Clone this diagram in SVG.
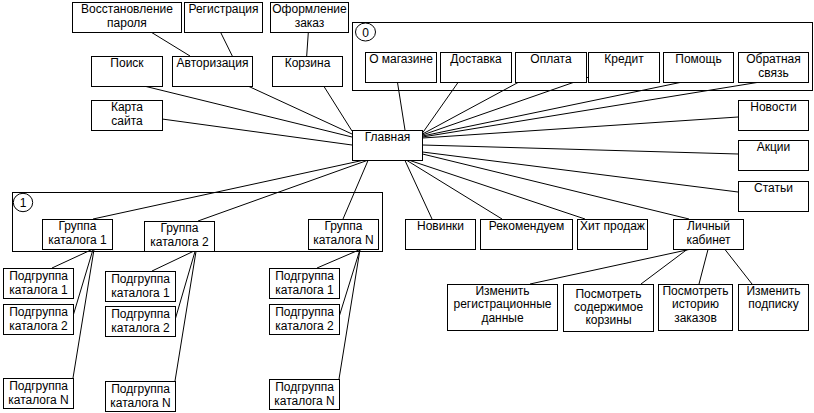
<svg xmlns="http://www.w3.org/2000/svg" width="814" height="413" viewBox="0 0 814 413">
<style>
.b{fill:#fff;stroke:#000;stroke-width:1}
.c{fill:none;stroke:#000;stroke-width:1}
.l{stroke:#000;stroke-width:1;fill:none}
text{font-family:"Liberation Sans",Arial,sans-serif;font-size:12px;text-anchor:middle;fill:#000}
</style>
<rect width="814" height="413" fill="#fff"/>
<g id="container0">
<rect class="c" x="352.5" y="22.5" width="460" height="68"/>
<ellipse class="c" cx="365.5" cy="32" rx="10" ry="9"/>
<text x="365.5" y="36.5">0</text>
</g>
<g id="container1">
<rect class="c" x="12.5" y="192.5" width="370" height="59"/>
<ellipse class="c" cx="23" cy="202.5" rx="9.7" ry="9.2"/>
<text x="23" y="207">1</text>
</g>
<g id="connectors" class="l">
<line x1="151.7" y1="32.5" x2="190" y2="56"/>
<line x1="220.7" y1="32.5" x2="232.3" y2="56"/>
<line x1="308.3" y1="32.5" x2="306.7" y2="56"/>
<line x1="146" y1="86.5" x2="352" y2="137"/>
<line x1="249" y1="86.5" x2="352" y2="134"/>
<line x1="324" y1="86.5" x2="352" y2="131"/>
<line x1="162" y1="119" x2="352" y2="145"/>
<line x1="397.5" y1="82.5" x2="405" y2="130"/>
<line x1="458" y1="82.5" x2="422.5" y2="133"/>
<line x1="518" y1="82.5" x2="422.5" y2="134"/>
<line x1="589" y1="77" x2="422.5" y2="135"/>
<line x1="680" y1="82.5" x2="422.5" y2="136"/>
<line x1="757" y1="82.5" x2="422.5" y2="137"/>
<line x1="738" y1="117" x2="422.5" y2="138"/>
<line x1="738" y1="154" x2="422.5" y2="145"/>
<line x1="738" y1="192" x2="422.5" y2="152"/>
<line x1="689" y1="219" x2="422.5" y2="154"/>
<line x1="585" y1="219" x2="410" y2="160.5"/>
<line x1="502" y1="219" x2="407" y2="160.5"/>
<line x1="432" y1="219" x2="405" y2="160.5"/>
<line x1="362" y1="160.5" x2="93" y2="219"/>
<line x1="367" y1="160.5" x2="198" y2="221"/>
<line x1="368" y1="160.5" x2="343" y2="219"/>
<line x1="92" y1="249.5" x2="52" y2="268"/>
<line x1="93" y1="249.5" x2="73" y2="316"/>
<line x1="94" y1="249.5" x2="73" y2="378"/>
<line x1="193" y1="251.5" x2="152" y2="271"/>
<line x1="195" y1="251.5" x2="175" y2="320"/>
<line x1="196" y1="251.5" x2="175" y2="381"/>
<line x1="360" y1="249.5" x2="317" y2="268"/>
<line x1="360" y1="249.5" x2="339" y2="317"/>
<line x1="360" y1="249.5" x2="339" y2="379"/>
<line x1="689" y1="249.5" x2="530" y2="284"/>
<line x1="687" y1="249.5" x2="641" y2="284"/>
<line x1="708" y1="249.5" x2="699" y2="284"/>
<line x1="725" y1="249.5" x2="752" y2="284"/>
</g>
<g id="vosstanovlenie"><rect class="b" x="72.5" y="2.5" width="109" height="30"/><text x="127" y="13">Восстановление</text><text x="127" y="27">пароля</text></g>
<g id="registracia"><rect class="b" x="184.5" y="2.5" width="78" height="30"/><text x="223.5" y="13">Регистрация</text></g>
<g id="oformlenie"><rect class="b" x="270.5" y="2.5" width="78" height="30"/><text x="309.5" y="13">Оформление</text><text x="309.5" y="27">заказ</text></g>
<g id="poisk"><rect class="b" x="91.5" y="56.5" width="71" height="30"/><text x="127" y="67">Поиск</text></g>
<g id="avtorizacia"><rect class="b" x="172.5" y="56.5" width="80" height="30"/><text x="212.5" y="67">Авторизация</text></g>
<g id="korzina"><rect class="b" x="272.5" y="56.5" width="70" height="30"/><text x="307.5" y="67">Корзина</text></g>
<g id="karta"><rect class="b" x="91.5" y="100.5" width="71" height="30"/><text x="127" y="111">Карта</text><text x="127" y="125">сайта</text></g>
<g id="glavnaya"><rect class="b" x="352.5" y="130.5" width="70" height="30"/><text x="387.5" y="141">Главная</text></g>
<g id="omagazine"><rect class="b" x="365.5" y="52.5" width="71" height="30"/><text x="401" y="63">О магазине</text></g>
<g id="dostavka"><rect class="b" x="440.5" y="52.5" width="71" height="30"/><text x="476" y="63">Доставка</text></g>
<g id="oplata"><rect class="b" x="515.5" y="52.5" width="71" height="30"/><text x="551" y="63">Оплата</text></g>
<g id="kredit"><rect class="b" x="588.5" y="52.5" width="71" height="30"/><text x="624" y="63">Кредит</text></g>
<g id="pomosh"><rect class="b" x="663.5" y="52.5" width="70" height="30"/><text x="698.5" y="63">Помощь</text></g>
<g id="obratnaya"><rect class="b" x="738.5" y="52.5" width="70" height="30"/><text x="773.5" y="63">Обратная</text><text x="773.5" y="77">связь</text></g>
<g id="novosti"><rect class="b" x="738.5" y="100.5" width="70" height="30"/><text x="773.5" y="111">Новости</text></g>
<g id="akcii"><rect class="b" x="738.5" y="140.5" width="70" height="30"/><text x="773.5" y="151">Акции</text></g>
<g id="stati"><rect class="b" x="738.5" y="181.5" width="70" height="30"/><text x="773.5" y="192">Статьи</text></g>
<g id="gruppa1"><rect class="b" x="42.5" y="219.5" width="70" height="30"/><text x="77.5" y="230">Группа</text><text x="77.5" y="244">каталога 1</text></g>
<g id="gruppa2"><rect class="b" x="144.5" y="221.5" width="70" height="30"/><text x="179.5" y="232">Группа</text><text x="179.5" y="246">каталога 2</text></g>
<g id="gruppaN"><rect class="b" x="308.5" y="219.5" width="70" height="30"/><text x="343.5" y="230">Группа</text><text x="343.5" y="244">каталога N</text></g>
<g id="novinki"><rect class="b" x="405.5" y="219.5" width="70" height="30"/><text x="440.5" y="230">Новинки</text></g>
<g id="rekomenduem"><rect class="b" x="480.5" y="219.5" width="92" height="30"/><text x="526.5" y="230">Рекомендуем</text></g>
<g id="hit"><rect class="b" x="577.5" y="219.5" width="70" height="30"/><text x="612.5" y="230">Хит продаж</text></g>
<g id="lk"><rect class="b" x="673.5" y="219.5" width="70" height="30"/><text x="708.5" y="230">Личный</text><text x="708.5" y="244">кабинет</text></g>
<g id="izm_reg"><rect class="b" x="447.5" y="284.5" width="110" height="46"/><text x="502.5" y="294.5">Изменить</text><text x="502.5" y="308">регистрационные</text><text x="502.5" y="321.5">данные</text></g>
<g id="posm_korz"><rect class="b" x="563.5" y="284.5" width="90" height="47"/><text x="608.5" y="297.5">Посмотреть</text><text x="608.5" y="310.5">содержимое</text><text x="608.5" y="323.5">корзины</text></g>
<g id="posm_ist"><rect class="b" x="658.5" y="284.5" width="74" height="46"/><text x="695.5" y="294.5">Посмотреть</text><text x="695.5" y="308">историю</text><text x="695.5" y="321.5">заказов</text></g>
<g id="izm_podp"><rect class="b" x="738.5" y="284.5" width="70" height="46"/><text x="773.5" y="294.5">Изменить</text><text x="773.5" y="308">подписку</text></g>
<g id="sub1_1"><rect class="b" x="3.5" y="268.5" width="70" height="30"/><text x="38.5" y="279.5">Подгруппа</text><text x="38.5" y="293.5">каталога 1</text></g>
<g id="sub1_2"><rect class="b" x="3.5" y="304.5" width="70" height="30"/><text x="38.5" y="315.5">Подгруппа</text><text x="38.5" y="329.5">каталога 2</text></g>
<g id="sub1_N"><rect class="b" x="3.5" y="378.5" width="70" height="30"/><text x="38.5" y="389.5">Подгруппа</text><text x="38.5" y="403.5">каталога N</text></g>
<g id="sub2_1"><rect class="b" x="105.5" y="271.5" width="70" height="30"/><text x="140.5" y="282.5">Подгруппа</text><text x="140.5" y="296.5">каталога 1</text></g>
<g id="sub2_2"><rect class="b" x="105.5" y="306.5" width="70" height="30"/><text x="140.5" y="317.5">Подгруппа</text><text x="140.5" y="331.5">каталога 2</text></g>
<g id="sub2_N"><rect class="b" x="105.5" y="381.5" width="70" height="30"/><text x="140.5" y="392.5">Подгруппа</text><text x="140.5" y="406.5">каталога N</text></g>
<g id="subN_1"><rect class="b" x="269.5" y="268.5" width="70" height="30"/><text x="304.5" y="279.5">Подгруппа</text><text x="304.5" y="293.5">каталога 1</text></g>
<g id="subN_2"><rect class="b" x="269.5" y="304.5" width="70" height="30"/><text x="304.5" y="315.5">Подгруппа</text><text x="304.5" y="329.5">каталога 2</text></g>
<g id="subN_N"><rect class="b" x="269.5" y="379.5" width="70" height="30"/><text x="304.5" y="390.5">Подгруппа</text><text x="304.5" y="404.5">каталога N</text></g>
</svg>
